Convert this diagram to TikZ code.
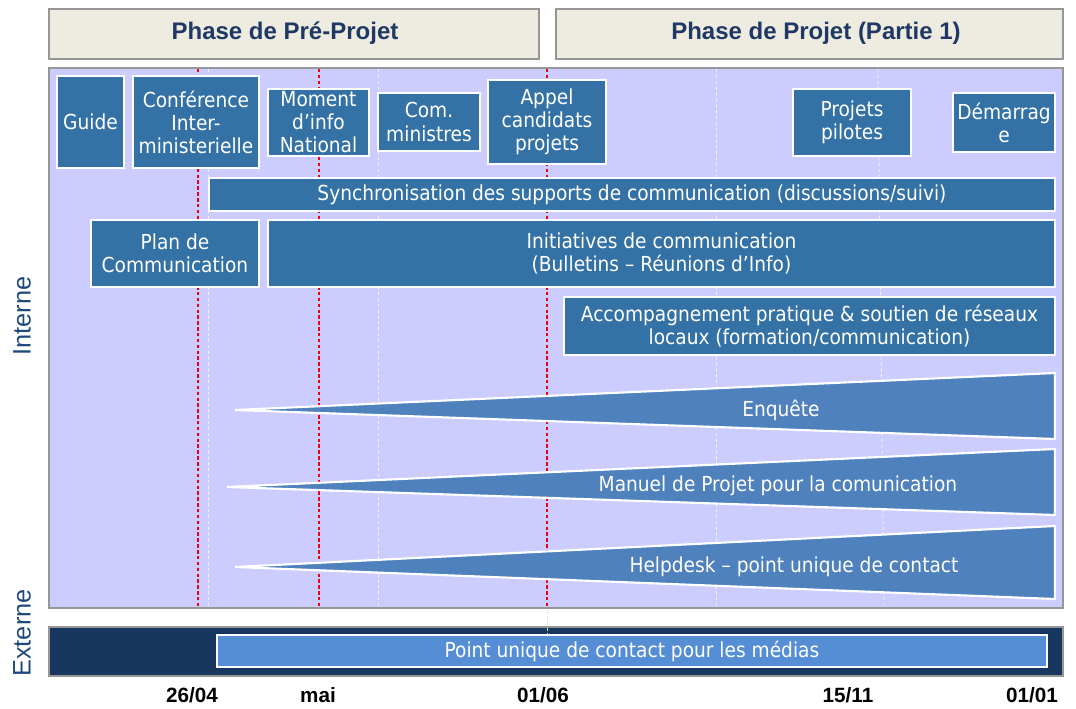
\documentclass[tikz,border=0pt]{standalone}
\usepackage{fontspec}
\setmainfont{Liberation Sans}
\newfontfamily\boxfont{DejaVu Sans Condensed}
\definecolor{boxblue}{RGB}{52,114,166}
\definecolor{wedgeblue}{RGB}{79,129,189}
\definecolor{lav}{RGB}{204,204,255}
\definecolor{phasefill}{RGB}{238,236,225}
\definecolor{framegray}{RGB}{150,150,150}
\definecolor{titlenavy}{RGB}{32,56,100}
\definecolor{sidenavy}{RGB}{31,73,125}
\definecolor{extfill}{RGB}{23,55,94}
\definecolor{barfill}{RGB}{85,142,213}
\definecolor{redline}{RGB}{235,0,20}
\definecolor{paleline}{RGB}{238,238,250}
\definecolor{paleline2}{RGB}{225,225,205}
\newcommand\rnode[7]{\node[#1, minimum width={(#4-#2)*0.75pt}, minimum height={(#5-#3)*0.75pt}] (#6) at ({(#2+#4)/2},{(#3+#5)/2}) {#7};}
\begin{document}
\begin{tikzpicture}[x=0.75pt,y=-0.75pt,
  bx/.style={draw=white, line width=0.8pt, fill=boxblue, text=white, font=\boxfont\fontsize{15.5}{17.3}\selectfont, align=center, inner sep=0pt},
  phasebox/.style={draw=framegray, line width=2.2pt, fill=phasefill, inner sep=0pt},
  phasetxt/.style={text=titlenavy, font=\bfseries\fontsize{18}{21}\selectfont, inner sep=0pt},
  panel/.style={draw=framegray, line width=2.2pt, fill=lav, inner sep=0pt},
  extpanel/.style={draw=framegray, line width=2.2pt, fill=extfill, inner sep=0pt},
  mediabar/.style={draw=white, line width=0.8pt, fill=barfill, text=white, font=\boxfont\fontsize{15.5}{17.3}\selectfont, inner sep=0pt},
  wedge/.style={draw=white, line width=1.6pt, fill=wedgeblue, line join=miter},
  wedgetxt/.style={text=white, font=\boxfont\fontsize{15.5}{17.3}\selectfont, inner sep=0pt},
  datelbl/.style={font=\bfseries\fontsize{15.5}{18}\selectfont, inner sep=0pt},
  sidelbl/.style={text=sidenavy, font=\fontsize{19}{22}\selectfont, rotate=90, inner sep=0pt},
  redcut/.style={draw=redline, line width=0.85pt, dash pattern=on 2.6pt off 1.8pt},
  palecut/.style={draw=paleline, line width=0.7pt, dash pattern=on 2.6pt off 1.8pt}]
\useasboundingbox (0,0) rectangle (1076,709);
% phases
\rnode{phasebox}{49}{9}{539}{59}{ph1}{}
\rnode{phasebox}{556}{9}{1063}{59}{ph2}{}
\node[phasetxt] (ph1t) at (285,33) {Phase de Pré-Projet};
\node[phasetxt] (ph2t) at (816,33) {Phase de Projet (Partie 1)};
% panels
\rnode{panel}{49}{68}{1063}{608}{interne}{}
\rnode{extpanel}{49}{627}{1063}{676}{externe}{}
% timeline cuts
\coordinate (r1t) at (198,69); \coordinate (r1b) at (198,607);
\coordinate (r2t) at (319,69); \coordinate (r2b) at (319,607);
\coordinate (r3t) at (547,69); \coordinate (r3b) at (547,607);
\coordinate (p1t) at (208.5,69); \coordinate (p1b) at (208.5,607);
\coordinate (p2t) at (378,69); \coordinate (p2b) at (378,607);
\coordinate (p3t) at (716,69); \coordinate (p3b) at (716,607);
\coordinate (p4t) at (878,69); \coordinate (p4b) at (884,607);
\coordinate (p5t) at (547,610); \coordinate (p5b) at (547,634);
\draw[palecut] (p1t) -- (p1b);
\draw[palecut] (p2t) -- (p2b);
\draw[palecut] (p3t) -- (p3b);
\draw[palecut] (p4t) -- (p4b);
\draw[palecut, draw=paleline2] (p5t) -- (p5b);
\draw[redcut] (r1t) -- (r1b);
\draw[redcut] (r2t) -- (r2b);
\draw[redcut] (r3t) -- (r3b);
% top row
\rnode{bx}{57}{76}{124}{168}{guide}{Guide}
\rnode{bx}{133}{76}{259}{168}{conf}{Conférence\\Inter-\\ministerielle}
\rnode{bx}{268}{89}{369}{156}{moment}{Moment\\d’info\\National}
\rnode{bx}{378}{93}{480}{151}{com}{Com.\\ministres}
\rnode{bx}{488}{80}{606}{164}{appel}{Appel\\candidats\\projets}
\rnode{bx}{793}{89}{911}{156}{pilotes}{Projets\\pilotes}
\rnode{bx}{953}{93}{1055}{152}{demarrage}{Démarrag\\e}
% bars
\rnode{bx}{209}{178}{1055}{211}{sync}{Synchronisation des supports de communication (discussions/suivi)}
\rnode{bx}{91}{220}{259}{287}{plan}{Plan de\\Communication}
\rnode{bx}{268}{220}{1055}{287}{init}{Initiatives de communication\\(Bulletins – Réunions d’Info)}
\rnode{bx}{564}{297}{1055}{355}{accomp}{Accompagnement pratique \& soutien de réseaux\\locaux (formation/communication)}
% wedges
\coordinate (e0) at (235,410); \coordinate (e1) at (1055,373); \coordinate (e2) at (1055,439);
\coordinate (m0) at (227,487); \coordinate (m1) at (1055,449); \coordinate (m2) at (1055,515);
\coordinate (h0) at (235,567); \coordinate (h1) at (1055,526); \coordinate (h2) at (1055,599);
\draw[wedge] (e0) -- (e1) -- (e2) -- cycle;
\draw[wedge] (m0) -- (m1) -- (m2) -- cycle;
\draw[wedge] (h0) -- (h1) -- (h2) -- cycle;
\node[wedgetxt] (enq) at (781,410) {Enquête};
\node[wedgetxt] (man) at (778,486) {Manuel de Projet pour la comunication};
\node[wedgetxt] (help) at (794,567) {Helpdesk – point unique de contact};
% external
\rnode{mediabar}{217}{635}{1047}{667}{medias}{Point unique de contact pour les médias}
% side labels
\node[sidelbl] (lint) at (22,316) {Interne};
\node[sidelbl] (lext) at (22,633) {Externe};
% dates
\node[datelbl] (d1) at (192,695) {26/04};
\node[datelbl] (d2) at (318,695) {mai};
\node[datelbl] (d3) at (543,695) {01/06};
\node[datelbl] (d4) at (848,695) {15/11};
\node[datelbl] (d5) at (1032,695) {01/01};
\end{tikzpicture}
\end{document}
